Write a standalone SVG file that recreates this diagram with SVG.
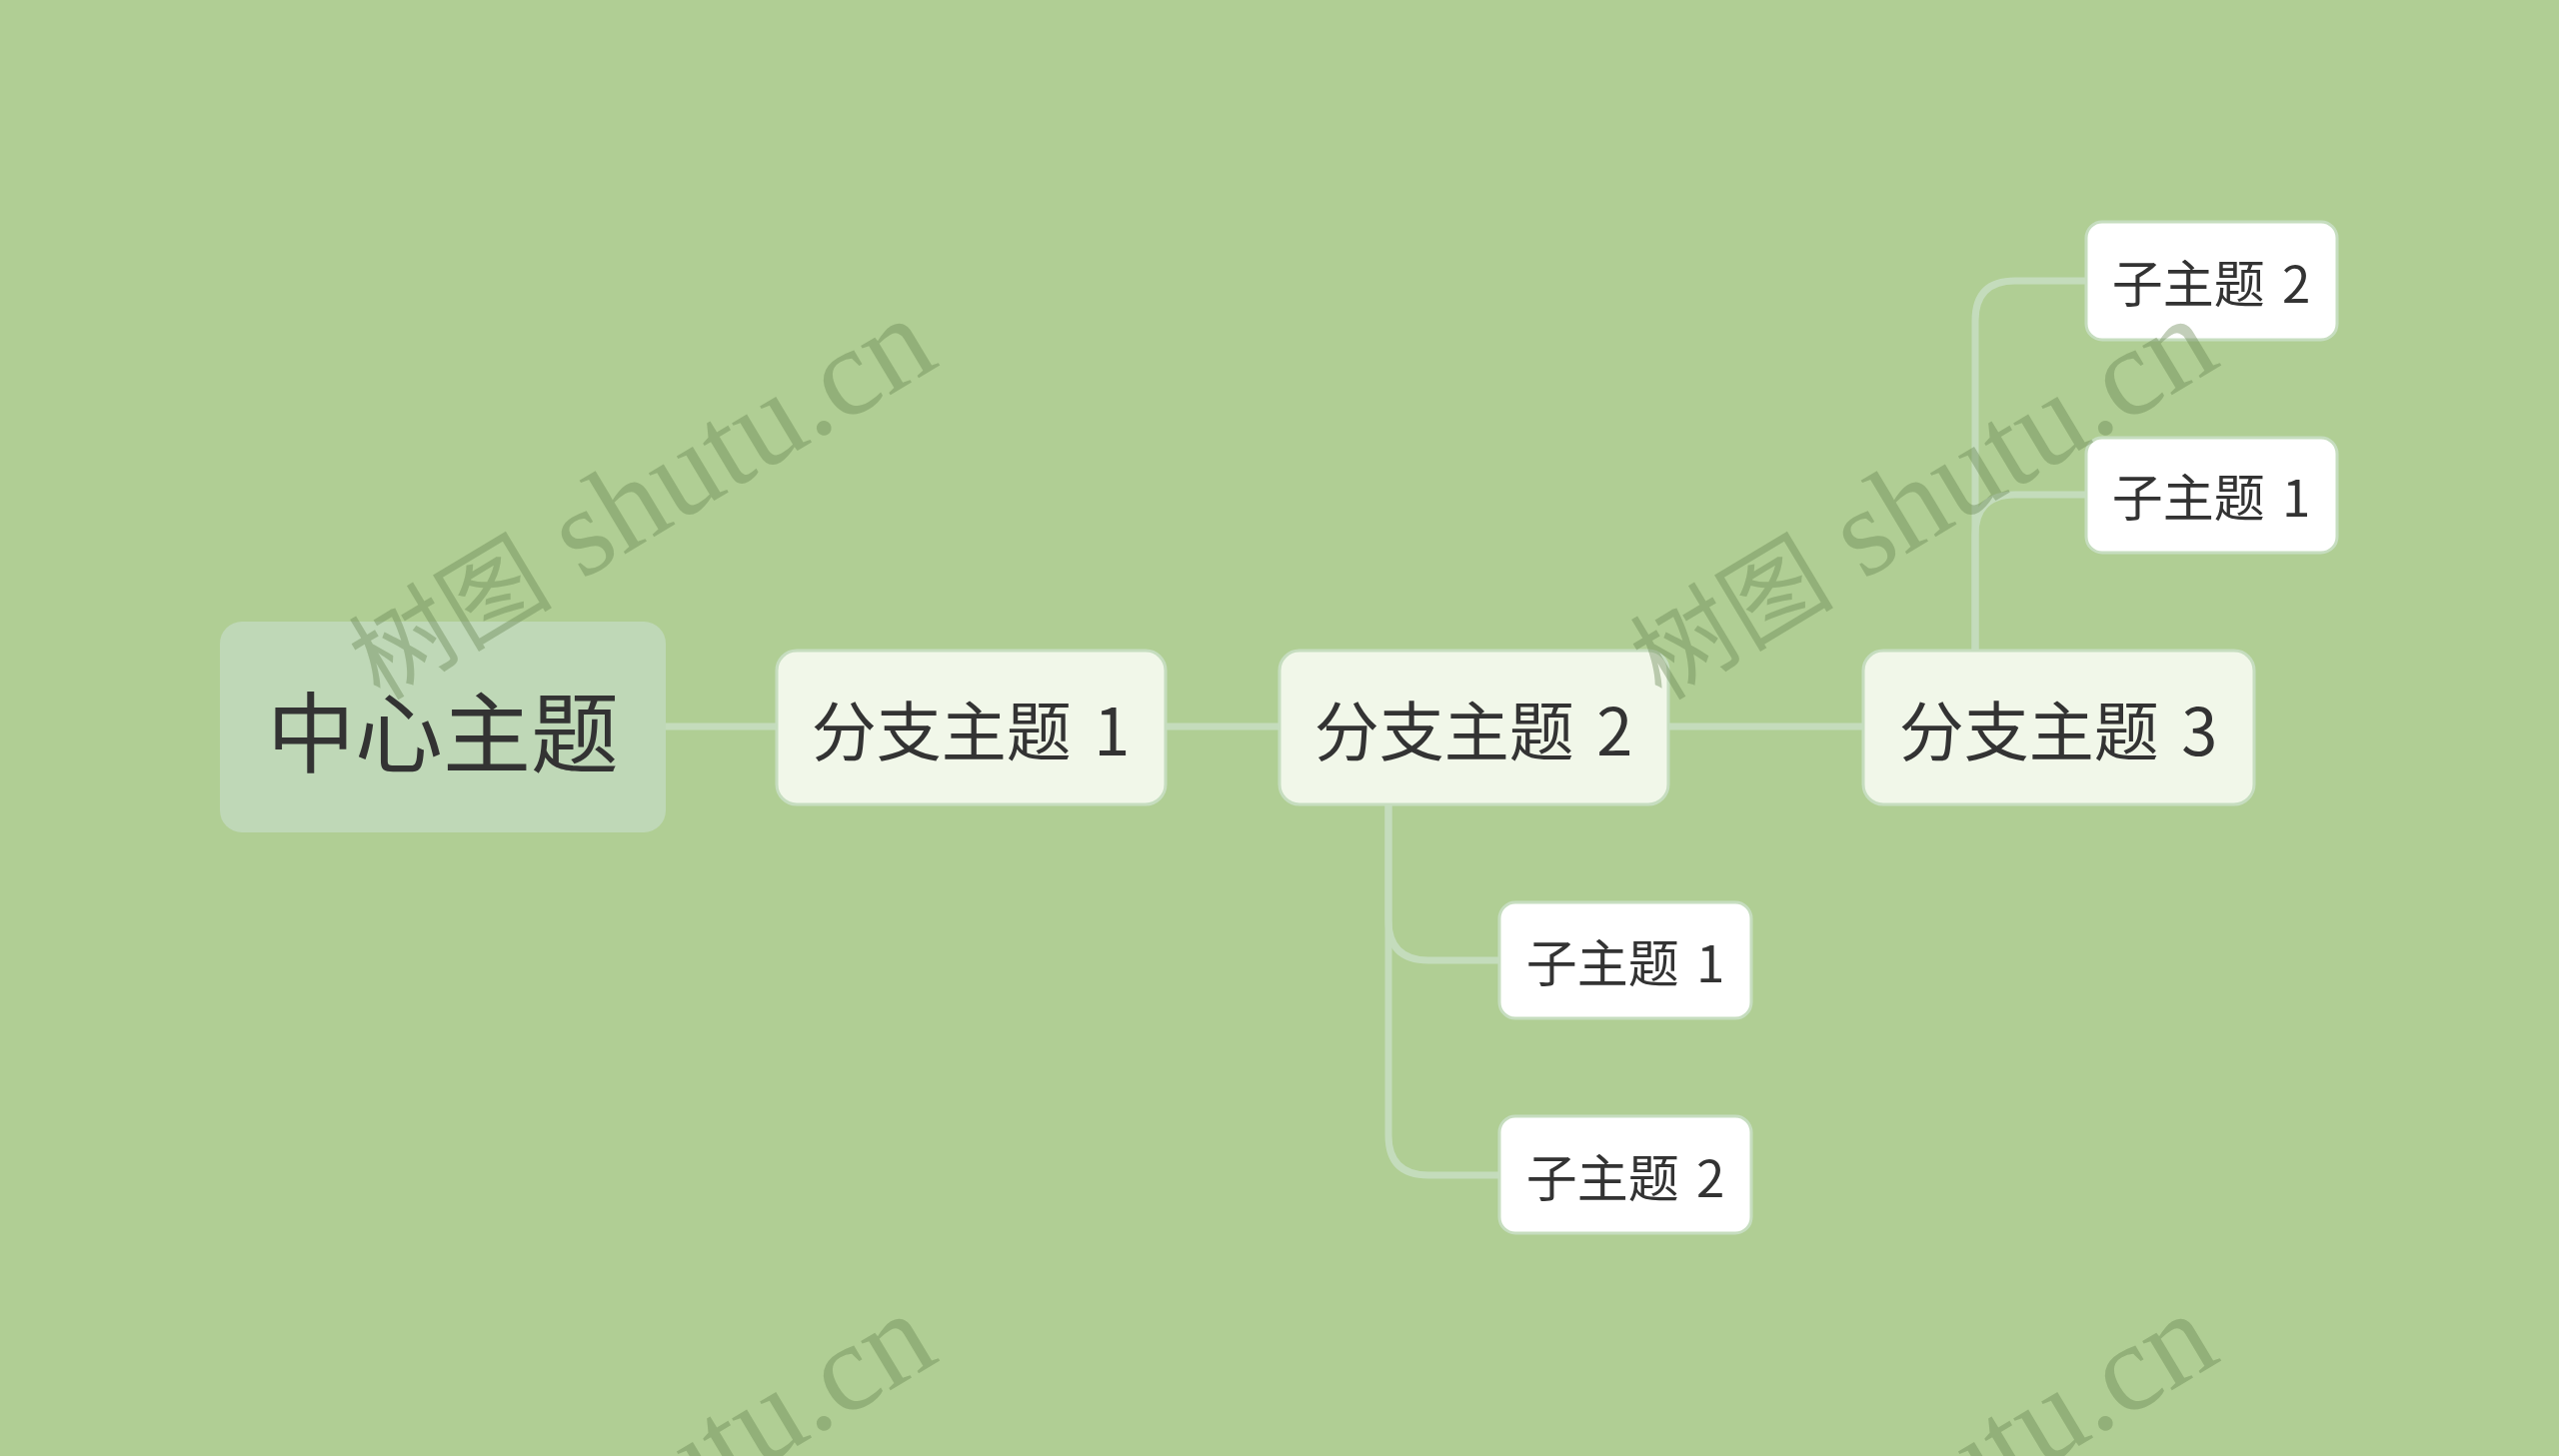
<svg xmlns="http://www.w3.org/2000/svg" width="2560" height="1457" viewBox="0 0 2560 1457">
<style>
.bg{fill:#b0ce94}
.conn{fill:none;stroke:#c4dcbc;stroke-width:7;stroke-linecap:butt}
.central{fill:#bfd8b7}
.branch{fill:#f1f7e9;stroke:#c6ddbf;stroke-width:3}
.sub{fill:#ffffff;stroke:#c6ddbf;stroke-width:3}
.t{font-family:"Noto Sans CJK SC","Noto Sans",sans-serif;fill:#333333;text-anchor:middle;dominant-baseline:central}
.tc{font-size:88px}
.tb{font-size:65px}
.ts{font-size:51px}
.wm{font-family:"Liberation Serif","Noto Sans CJK SC",serif;font-size:125px;fill:#66854f;fill-opacity:0.4}
.wmc{font-size:102px}
</style>
<rect class="bg" x="0" y="0" width="2560" height="1457"/>
<g id="connectors">
<path class="conn" d="M666,727 H777"/>
<path class="conn" d="M1166,727 H1280"/>
<path class="conn" d="M1669,727 H1864"/>
<path class="conn" d="M1389,805 V921 Q1389,961 1429,961 H1500"/>
<path class="conn" d="M1389,805 V1136 Q1389,1176 1429,1176 H1500"/>
<path class="conn" d="M1976,651 V535 Q1976,495 2016,495 H2087"/>
<path class="conn" d="M1976,651 V321 Q1976,281 2016,281 H2087"/>
</g>
<g id="central">
<rect class="central" x="220" y="622" width="446" height="211" rx="22"/>
<text class="t tc" x="443" y="727">中心主题</text>
</g>
<g id="branch1">
<rect class="branch" x="777" y="651" width="389" height="154" rx="20"/>
<text class="t tb" x="971" y="728">分支主题 <tspan dx="8">1</tspan></text>
</g>
<g id="branch2">
<rect class="branch" x="1280" y="651" width="389" height="154" rx="20"/>
<text class="t tb" x="1474" y="728">分支主题 <tspan dx="8">2</tspan></text>
</g>
<g id="branch3">
<rect class="branch" x="1864" y="651" width="391" height="154" rx="20"/>
<text class="t tb" x="2059" y="728">分支主题 <tspan dx="8">3</tspan></text>
</g>
<g id="b2sub1">
<rect class="sub" x="1500" y="903" width="252" height="116" rx="16"/>
<text class="t ts" x="1626" y="961">子主题 <tspan dx="6">1</tspan></text>
</g>
<g id="b2sub2">
<rect class="sub" x="1500" y="1117" width="252" height="117" rx="16"/>
<text class="t ts" x="1626" y="1176">子主题 <tspan dx="6">2</tspan></text>
</g>
<g id="b3sub2">
<rect class="sub" x="2087" y="222" width="251" height="118" rx="16"/>
<text class="t ts" x="2212" y="281">子主题 <tspan dx="6">2</tspan></text>
</g>
<g id="b3sub1">
<rect class="sub" x="2087" y="438" width="251" height="115" rx="16"/>
<text class="t ts" x="2212" y="495">子主题 <tspan dx="6">1</tspan></text>
</g>
<g id="watermarks">
<text class="wm" transform="translate(380,702) rotate(-31)"><tspan class="wmc">树图</tspan> shutu.cn</text>
<text class="wm" transform="translate(1662,702) rotate(-31)"><tspan class="wmc">树图</tspan> shutu.cn</text>
<text class="wm" transform="translate(380,1698) rotate(-31)"><tspan class="wmc">树图</tspan> shutu.cn</text>
<text class="wm" transform="translate(1662,1698) rotate(-31)"><tspan class="wmc">树图</tspan> shutu.cn</text>
</g>
</svg>
